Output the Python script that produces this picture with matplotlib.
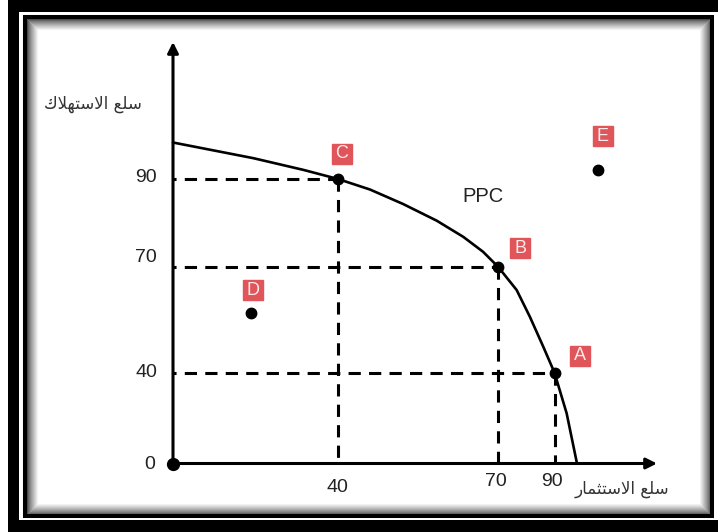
import numpy as np
import matplotlib
matplotlib.use('Agg')
import matplotlib.pyplot as plt
from matplotlib.patches import Rectangle
from matplotlib.transforms import offset_copy

# ---------------- data ----------------
on_names = ['A', 'B', 'C']
on_x = [90, 70, 40]
on_y = [40, 70, 90]
off_names = ['D', 'E']
off_x = [19, 108]
off_y = [57, 92.5]
curve_x = [0, 19.5, 31.6, 40, 46, 52.2, 58.5, 63.5, 67.2, 70, 76.6, 81.3, 86, 90, 95.4, 100]
curve_y = [100, 95.7, 92.5, 90, 87.6, 84.3, 80.5, 76.8, 73.4, 70, 63.4, 55.8, 47.4, 40, 22.1, 0]
x_ticks = [40, 70, 90]
y_ticks = [40, 70, 90]
origin_label = '0'
curve_label = 'PPC'
# Arabic labels, pre-shaped (presentation forms, visual order)
y_title = '\uFED9\uFEFC\uFEEC\uFE98\uFEB3\uFEFB\uFE8D \uFECA\uFEE0\uFEB3'   # سلع الاستهلاك
x_title = '\uFEAD\uFE8E\uFEE4\uFE9C\uFE98\uFEB3\uFEFB\uFE8D \uFECA\uFEE0\uFEB3'  # سلع الاستثمار

# ---------------- layout / scale (schematic, non-linear axes) ----------------
W, H = 718, 532
OX, OY = 173, 463.5
XV = [-1000, 0, 40, 70, 90, 100, 130, 1000]
XP = [-4125, 0, 165, 325, 381.5, 404, 484, 2744]
YV = [-1000, 0, 40, 70, 90, 100, 130, 1000]
YP = [-2270, 0, 90.8, 196.8, 284.5, 321, 421.5, 3336]

def fx(v):
    return np.interp(v, XV, XP)

def fx_inv(p):
    return np.interp(p, XP, XV)

def fy(v):
    return np.interp(v, YV, YP)

def fy_inv(p):
    return np.interp(p, YP, YV)

fig = plt.figure(figsize=(W / 100, H / 100), dpi=100)
fig.patch.set_facecolor('white')

# background axes in pixel coordinates for the frame and free text
bg = fig.add_axes([0, 0, 1, 1], zorder=0)
bg.set_xlim(0, W)
bg.set_ylim(H, 0)
bg.axis('off')

# outer heavy frame
bg.add_patch(Rectangle((8, 0), W - 8, 12, color='black', lw=0))
bg.add_patch(Rectangle((8, 0), 11, H, color='black', lw=0))
bg.add_patch(Rectangle((8, 520), W - 8, 12, color='black', lw=0))
# inner shadow
for i in range(12):
    g = 0.30 + 0.70 * (i / 11) ** 0.8
    bg.add_patch(Rectangle((27 + i, 19 + i), 683 - 2 * i, 495 - 2 * i,
                           fill=False, ec=(g, g, g), lw=0.75))
# inner frame line
bg.add_patch(Rectangle((25, 17), 687, 498.5, fill=False, ec='black', lw=2.9))

bg.text(483, 196, curve_label, fontsize=14.5, family='Liberation Sans',
        color='#222222', ha='center', va='center')
bg.text(93, 104, y_title, fontsize=12, family='DejaVu Sans',
        color='#333333', ha='center', va='center')
bg.text(622, 489, x_title, fontsize=12, family='DejaVu Sans',
        color='#333333', ha='center', va='center')

# main axes
ax = fig.add_axes([OX / W, (H - OY) / H, 484 / W, 421.5 / H], zorder=2)
ax.set_xscale('function', functions=(fx, fx_inv))
ax.set_yscale('function', functions=(fy, fy_inv))
ax.set_xlim(0, 130)
ax.set_ylim(0, 130)
ax.axis('off')
ax.patch.set_alpha(0)

# axes with arrows
ax.annotate('', xy=(130, 0), xytext=(0, 0), annotation_clip=False,
            arrowprops=dict(arrowstyle='-|>', lw=2.2, color='black',
                            mutation_scale=16, shrinkA=0, shrinkB=0))
ax.annotate('', xy=(0, 130), xytext=(0, 0), annotation_clip=False,
            arrowprops=dict(arrowstyle='-|>', lw=2.2, color='black',
                            mutation_scale=16, shrinkA=0, shrinkB=0))

# dashed guide lines
for px, py in zip(on_x, on_y):
    ax.plot([0, px], [py, py], color='black', lw=2.2,
            linestyle=(3, (4, 2.7)), clip_on=False)
    ax.plot([px, px], [py, 0], color='black', lw=2.2,
            linestyle=(0, (4, 2.7)), clip_on=False)

# PPC curve
ax.plot(curve_x, curve_y, color='black', lw=1.9, clip_on=False,
        solid_capstyle='round', solid_joinstyle='round')

# points
ax.plot(on_x, on_y, 'o', color='black', ms=7.5, clip_on=False, zorder=5)
ax.plot(off_x, off_y, 'o', color='black', ms=7.5, clip_on=False, zorder=5)
ax.plot([0], [0], 'o', color='black', ms=8.5, clip_on=False, zorder=5)

# red letter badges
badge_off = {'A': (25.5, 16.7), 'B': (22, 18.4), 'C': (4, 25), 'D': (1.6, 22.3), 'E': (4.5, 33.5)}
names = on_names + off_names
xs = on_x + off_x
ys = on_y + off_y
for n, px, py in zip(names, xs, ys):
    dx, dy = badge_off[n]
    tr = offset_copy(ax.transData, fig=fig, x=dx, y=dy, units='dots')
    ax.plot([px], [py], 's', ms=14.5, color='#E0555A', transform=tr,
            clip_on=False, zorder=6)
    ax.text(px, py, n, transform=tr, fontsize=13, family='Liberation Sans',
            color='#FBEAEA', ha='center', va='center', zorder=7)

# tick labels
lab_kw = dict(fontsize=14, family='Liberation Sans', color='#222222')
y_dy = {40: 0, 70: 9, 90: 1}
for v in y_ticks:
    ax.annotate(str(v), (0, v), xytext=(-16, y_dy[v]), textcoords='offset pixels',
                ha='right', va='center', annotation_clip=False, **lab_kw)
x_d = {40: (-1, -24), 70: (-2, -18), 90: (-2.5, -18)}
for v in x_ticks:
    dx, dy = x_d[v]
    ax.annotate(str(v), (v, 0), xytext=(dx, dy), textcoords='offset pixels',
                ha='center', va='center', annotation_clip=False, **lab_kw)
ax.annotate(origin_label, (0, 0), xytext=(-23, -1), textcoords='offset pixels',
            ha='center', va='center', annotation_clip=False, **lab_kw)

fig.savefig('out.png', dpi=100)
